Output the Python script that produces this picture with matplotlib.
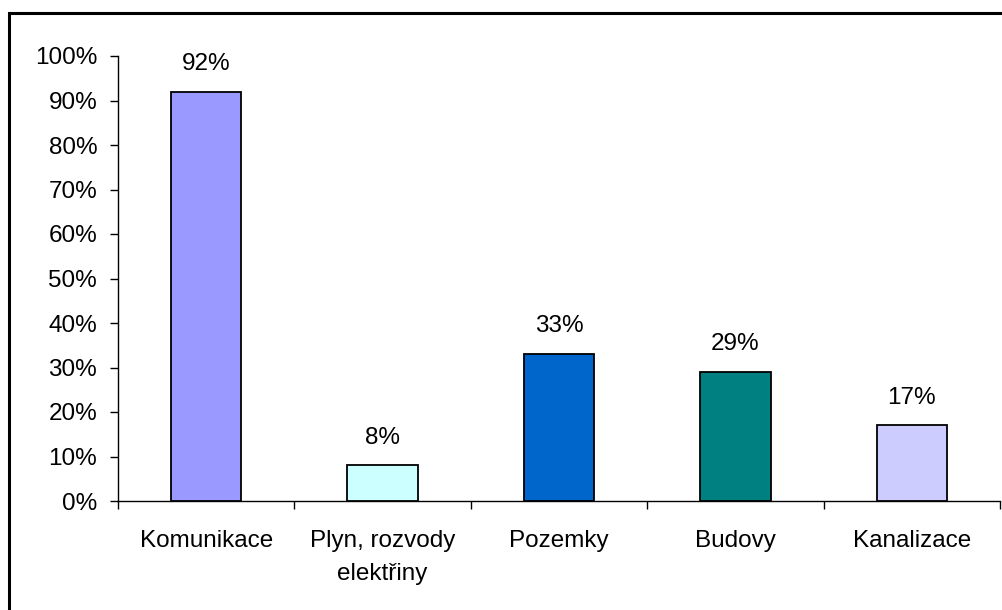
import matplotlib
matplotlib.use("Agg")
import matplotlib.pyplot as plt
from matplotlib.patches import Rectangle
from matplotlib.ticker import FuncFormatter, MultipleLocator

categories = ["Komunikace", "Plyn, rozvody\nelektřiny", "Pozemky", "Budovy", "Kanalizace"]
values = [92, 8, 33, 29, 17]
bar_colors = ["#9999FF", "#CCFFFF", "#0066CC", "#008080", "#CCCCFF"]

plt.rcParams["font.family"] = ["Liberation Sans", "DejaVu Sans"]
FS = 17.5

W, H = 1003, 610
fig = plt.figure(figsize=(W / 100, H / 100), dpi=100)

# outer chart frame (only top and left edges fall inside the image)
fig.patches.append(Rectangle((9.5 / W, -0.05), 1.2, (H - 13.5) / H + 0.05,
                             transform=fig.transFigure, fill=False,
                             edgecolor="black", linewidth=2.2, zorder=0))

ax = fig.add_axes([118 / W, (H - 501) / H, (1000 - 118) / W, (501 - 56) / H])

x = range(len(categories))
ax.bar(x, values, width=0.4, color=bar_colors, edgecolor="black",
       linewidth=1.3, zorder=3)

for xi, v in zip(x, values):
    ax.annotate(f"{v}%", (xi, v), xytext=(0, 20), textcoords="offset points",
                ha="center", va="center", fontsize=FS)

ax.set_xlim(-0.5, len(categories) - 0.5)
ax.set_ylim(0, 100)
ax.yaxis.set_major_locator(MultipleLocator(10))
ax.yaxis.set_major_formatter(FuncFormatter(lambda v, p: f"{v:.0f}%"))

ax.set_xticks([i - 0.5 for i in range(len(categories) + 1)], minor=False)
ax.set_xticklabels([])
ax.set_xticks(list(x), minor=True)
ax.set_xticklabels(categories, minor=True, fontsize=FS, linespacing=1.65)
ax.tick_params(axis="x", which="major", direction="out", length=6, width=1)
ax.tick_params(axis="x", which="minor", length=0, pad=21)
ax.tick_params(axis="y", direction="out", length=6, width=1, pad=9,
               labelsize=FS)

for side in ("top", "right"):
    ax.spines[side].set_visible(False)
for side in ("left", "bottom"):
    ax.spines[side].set_linewidth(1)

fig.savefig("out.png", dpi=100)
